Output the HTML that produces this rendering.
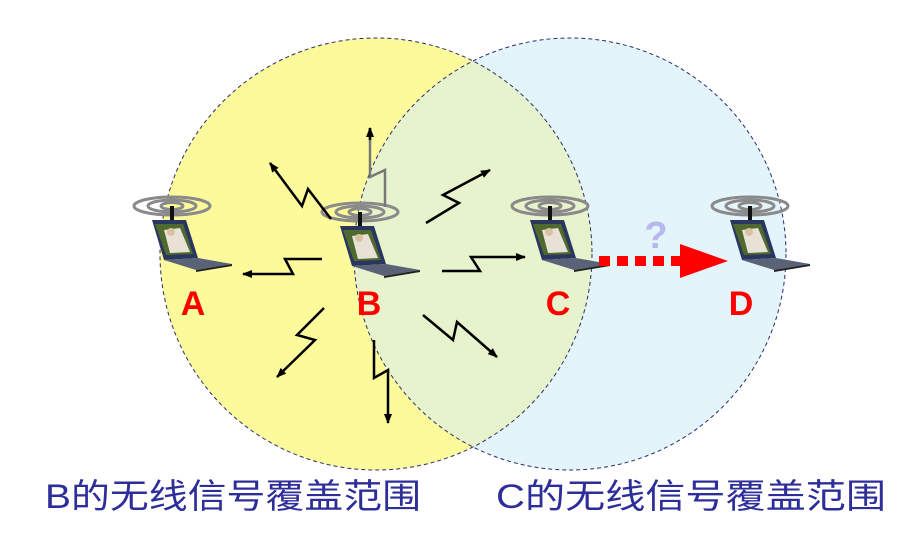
<!DOCTYPE html>
<html><head><meta charset="utf-8"><style>
html,body{margin:0;padding:0;background:#fff;width:900px;height:538px;overflow:hidden}
svg{display:block}
</style></head><body>
<svg width="900" height="538" viewBox="0 0 900 538" xmlns="http://www.w3.org/2000/svg">
<defs>
<clipPath id="cy"><circle cx="376" cy="254" r="216"/></clipPath>
<marker id="ah" markerWidth="10" markerHeight="8" refX="9" refY="4" orient="auto" markerUnits="userSpaceOnUse"><path d="M0,0 L10,4 L0,8 Z" fill="#000"/></marker>
<g id="lap">
  <g fill="none" stroke="#8a8a8a" stroke-width="3">
    <ellipse cx="12" cy="-12" rx="38" ry="9"/>
    <ellipse cx="12" cy="-12" rx="24" ry="6"/>
    <ellipse cx="12" cy="-12" rx="11" ry="3.5"/>
  </g>
  <rect x="10" y="-12" width="4" height="16" fill="#111"/>
  <path d="M-8,2 L26,2 L38,40 L4,42 Z" fill="#2a3560"/>
  <path d="M-5,6 L23,6 L33,36 L6,37 Z" fill="#4f6a2e"/>
  <path d="M4,12 L20,10 L30,34 L10,35 Z" fill="#e8e2d6"/>
  <circle cx="11" cy="14" r="4" fill="#d9c2a0"/>
  <path d="M4,42 L38,40 L72,46 L36,52 Z" fill="#5a6278"/>
  <path d="M36,52 L72,46 L72,48 L36,54 Z" fill="#222"/>
</g>
</defs>
<circle cx="376" cy="254" r="216" fill="#fdfa9c"/>
<circle cx="570" cy="254" r="216" fill="#e4f4fb"/>
<circle cx="570" cy="254" r="216" fill="#e6f3cc" clip-path="url(#cy)"/>
<circle cx="376" cy="254" r="216" fill="none" stroke="#2a2f6a" stroke-width="1" stroke-dasharray="4,3"/>
<circle cx="570" cy="254" r="216" fill="none" stroke="#2a2f6a" stroke-width="1" stroke-dasharray="4,3"/>

<use href="#lap" x="160" y="218"/>
<use href="#lap" x="348" y="224"/>
<use href="#lap" x="538" y="218"/>
<use href="#lap" x="738" y="218"/>

<g fill="none" stroke="#000" stroke-width="2.5" marker-end="url(#ah)">
<polyline points="322,259 285,259 293,274 243,274"/>
<polyline points="331,219 308,189 302,206 270,163"/>
<polyline points="426,223 459,203 443,195 490,170"/>
<polyline points="442,271 480,271 471,257 525,257"/>
<polyline points="324,308 297,335 315,340 277,377"/>
<polyline points="374,340 374,378 388,370 388,423"/>
<polyline points="423,315 453,340 457,322 497,357"/>
</g>
<polyline points="385,207 385,170 370,177 370,128" fill="none" stroke="#777" stroke-width="2.5"/>
<polyline points="370,140 370,128" fill="none" stroke="#000" stroke-width="2.5" marker-end="url(#ah)"/>

<g fill="#f00">
<rect x="599" y="256" width="11" height="10"/>
<rect x="617" y="256" width="11" height="10"/>
<rect x="635" y="256" width="11" height="10"/>
<rect x="653" y="256" width="11" height="10"/>
<rect x="671" y="256" width="10" height="10"/>
<path d="M680,244 L728,261 L680,278 Z"/>
</g>
<text x="656" y="248" font-family="Liberation Sans, sans-serif" font-weight="bold" font-size="38" fill="#b8b8ee" text-anchor="middle">?</text>

<g font-family="Liberation Sans, sans-serif" font-weight="bold" font-size="34" fill="#f00" text-anchor="middle">
<text x="193" y="315">A</text>
<text x="369" y="315">B</text>
<text x="558" y="315">C</text>
<text x="741" y="315">D</text>
</g>
<g font-family="Liberation Sans, 'Noto Sans CJK SC', sans-serif" font-size="34" fill="#2e2e9a">
<text x="45" y="508" textLength="376" lengthAdjust="spacingAndGlyphs">B的无线信号覆盖范围</text>
<text x="496" y="508" textLength="390" lengthAdjust="spacingAndGlyphs">C的无线信号覆盖范围</text>
</g>
</svg>
</body></html>
